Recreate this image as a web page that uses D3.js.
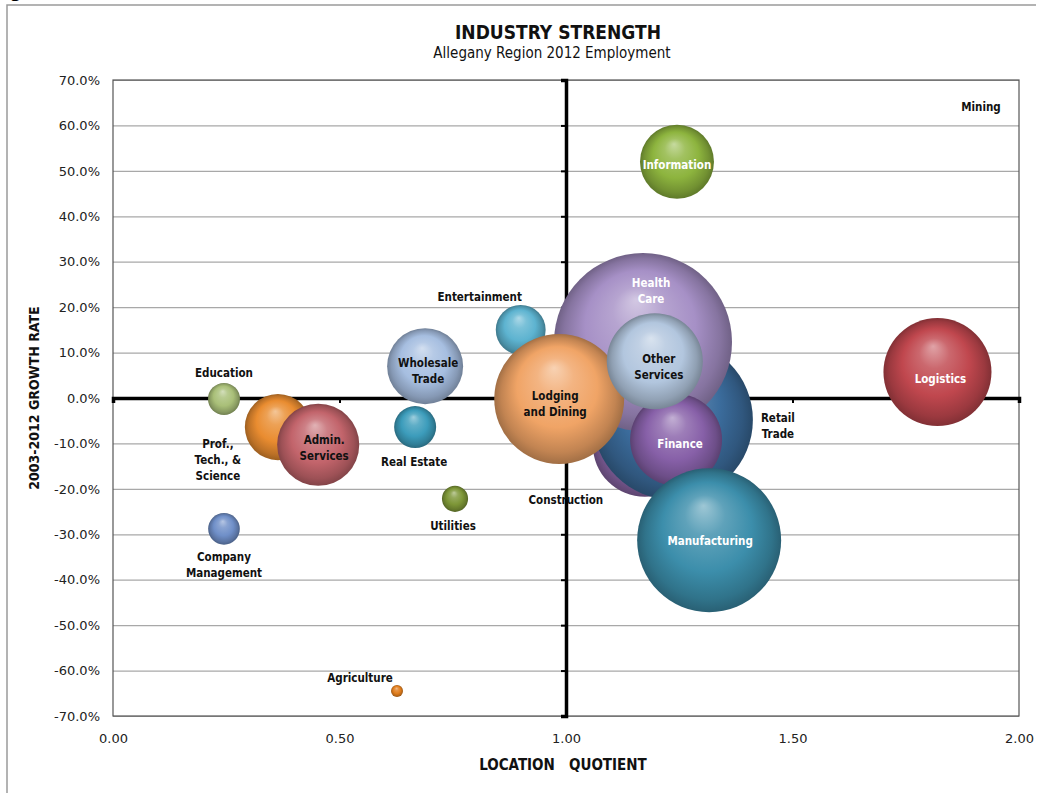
<!DOCTYPE html>
<html><head><meta charset="utf-8">
<script src="https://cdn.jsdelivr.net/npm/d3@7"></script>
<style>body{margin:0;background:#fff}svg{display:block}</style>
</head><body>
<svg id="chart" width="1054" height="793"></svg>
<script>
// ---------- DATA (draw order) ----------
const industries = ["Agriculture","Mining","Utilities","Education","Company Management","Prof., Tech., & Science","Admin. Services","Real Estate","Wholesale Trade","Entertainment","Construction","Retail Trade","Health Care","Lodging and Dining","Finance","Other Services","Information","Manufacturing","Logistics"];
const locationQuotient = [0.627, 2.30, 0.755, 0.245, 0.245, 0.364, 0.453, 0.667, 0.689, 0.900, 1.174, 1.236, 1.170, 0.985, 1.243, 1.196, 1.245, 1.316, 1.820];
const growthRate = [-64.5, 80.0, -22.2, -0.2, -28.8, -6.4, -10.3, -6.4, 7.0, 15.0, -10.3, -4.8, 12.3, -0.2, -9.2, 8.1, 52.0, -31.3, 5.7];
const employment = [36, 0, 170, 255, 250, 1090, 1680, 440, 1440, 620, 2700, 6380, 7900, 4210, 2110, 2300, 1365, 5170, 2910];
const bubbleColors = ["#e07d1c","#999999","#7d9637","#a9bf78","#6f8fc8","#e98c30","#c2646b","#3c9cbb","#a6bee0","#5db3d0","#8966a6","#3b6c9c","#a690c6","#f0a466","#8760a8","#b2c6de","#8db43e","#3c8eab","#c0474e"];
const labelLines = [["Agriculture"],["Mining"],["Utilities"],["Education"],["Company","Management"],["Prof.,","Tech., &","Science"],["Admin.","Services"],["Real Estate"],["Wholesale","Trade"],["Entertainment"],["Construction"],["Retail","Trade"],["Health","Care"],["Lodging","and Dining"],["Finance"],["Other","Services"],["Information"],["Manufacturing"],["Logistics"]];
const xTickValues = [0, 0.5, 1.0, 1.5, 2.0];
const yTickValues = [-70, -60, -50, -40, -30, -20, -10, 0, 10, 20, 30, 40, 50, 60, 70];

// ---------- LAYOUT (label offsets from bubble centre, px) ----------
const labelOffsets = [[-37,-13],[-38,27],[-2,27],[0,-26],[0,36],[-60,33],[6,3],[-1,35],[3,5],[-41,-33],[-79,55],[105,6],[8,-51],[-4,5],[4,4],[4,6],[0,3],[1,1],[3,7]];
const whiteLabels = new Set(["Information","Health Care","Finance","Manufacturing","Logistics"]);

const svg = d3.select("#chart");
const W = 1054, H = 793;
const m = {left:113, right:1019, top:80, bottom:716};

const fontTitle = "'Liberation Sans Narrow','DejaVu Sans Condensed','Arial Narrow',sans-serif";
const fontTick = "'DejaVu Sans','Liberation Sans',sans-serif";
const fontLabel = "'Liberation Sans Narrow','DejaVu Sans Condensed',sans-serif";

// outer border (left and top edges visible in the reference crop)
svg.append("path").attr("d", `M7,${H} V5 H1036`).attr("fill","none").attr("stroke","#9a9a9a").attr("stroke-width",1.5);
svg.append("text").attr("x",10).attr("y",-2).attr("font-family",fontTick).attr("font-weight","bold").attr("font-size",16).text("g");

const x = d3.scaleLinear().domain([0,2]).range([m.left, m.right]);
const y = d3.scaleLinear().domain([-70,70]).range([m.bottom, m.top]);
const r = d3.scaleSqrt().domain([0, d3.max(employment)]).range([0, 89]);

// titles
svg.append("text").attr("x",558).attr("y",39).attr("text-anchor","middle")
  .attr("font-family",fontTitle).attr("font-weight","bold").attr("font-size",19).attr("fill","#111").text("INDUSTRY STRENGTH");
svg.append("text").attr("x",552).attr("y",58).attr("text-anchor","middle")
  .attr("font-family",fontTitle).attr("font-size",15).attr("fill","#111").text("Allegany Region 2012 Employment");

// gridlines
svg.append("g").attr("transform",`translate(${m.left},0)`)
  .call(d3.axisLeft(y).tickValues(yTickValues).tickSize(-(m.right-m.left)).tickFormat(""))
  .call(g => g.select(".domain").remove())
  .call(g => g.selectAll("line").attr("stroke","#a8a8a8").attr("stroke-width",1.2));

// plot frame
svg.append("rect").attr("x",m.left).attr("y",m.top).attr("width",m.right-m.left).attr("height",m.bottom-m.top)
  .attr("fill","none").attr("stroke","#555").attr("stroke-width",1.2);

// y tick labels
svg.append("g").attr("transform",`translate(${m.left},0)`)
  .call(d3.axisLeft(y).tickValues(yTickValues).tickSize(0).tickPadding(13).tickFormat(d => d.toFixed(1)+"%"))
  .call(g => g.select(".domain").remove())
  .call(g => g.selectAll("text").attr("font-family",fontTick).attr("font-size",13).attr("fill","#222"));

// x tick labels
svg.append("g").attr("transform",`translate(0,${m.bottom})`)
  .call(d3.axisBottom(x).tickValues(xTickValues).tickSize(0).tickPadding(18).tickFormat(d3.format(".2f")))
  .call(g => g.select(".domain").remove())
  .call(g => g.selectAll("text").attr("font-family",fontTick).attr("font-size",13).attr("fill","#222"));

// central axes
svg.append("g").attr("transform",`translate(${x(1)},0)`)
  .call(d3.axisLeft(y).tickValues(yTickValues).tickSize(5).tickFormat(""))
  .call(g => g.select(".domain").attr("stroke","#000").attr("stroke-width",3.5))
  .call(g => g.selectAll("line").attr("stroke","#000").attr("stroke-width",2));
svg.append("g").attr("transform",`translate(0,${y(0)})`)
  .call(d3.axisBottom(x).tickValues(xTickValues).tickSize(5).tickFormat(""))
  .call(g => g.select(".domain").attr("stroke","#000").attr("stroke-width",3.5))
  .call(g => g.selectAll("line").attr("stroke","#000").attr("stroke-width",2));

// axis titles
svg.append("text").attr("x",563).attr("y",770).attr("text-anchor","middle")
  .attr("font-family",fontTitle).attr("font-weight","bold").attr("font-size",15).attr("fill","#111")
  .attr("xml:space","preserve").text("LOCATION   QUOTIENT");
svg.append("text").attr("transform",`translate(39,${y(0)}) rotate(-90)`).attr("text-anchor","middle")
  .attr("font-family",fontTitle).attr("font-weight","bold").attr("font-size",14).attr("fill","#111")
  .text("2003-2012 GROWTH RATE");

// gradients
const defs = svg.append("defs");
defs.append("clipPath").attr("id","plotclip").append("rect")
  .attr("x",m.left).attr("y",m.top).attr("width",m.right-m.left).attr("height",m.bottom-m.top);
bubbleColors.forEach((c,i) => {
  const g = defs.append("radialGradient").attr("id","bg"+i)
    .attr("cx","50%").attr("cy","50%").attr("r","50%").attr("fx","46%").attr("fy","26%");
  const base = d3.color(c);
  g.append("stop").attr("offset","0%").attr("stop-color", d3.interpolateRgb(c,"#ffffff")(0.5));
  g.append("stop").attr("offset","28%").attr("stop-color", d3.interpolateRgb(c,"#ffffff")(0.18));
  g.append("stop").attr("offset","62%").attr("stop-color", c);
  g.append("stop").attr("offset","88%").attr("stop-color", base.darker(0.6).formatHex());
  g.append("stop").attr("offset","100%").attr("stop-color", base.darker(1.1).formatHex());
});

const data = industries.map((name,i) => ({name, lq:locationQuotient[i], g:growthRate[i], emp:employment[i], i}));

// bubbles
svg.append("g").attr("clip-path","url(#plotclip)")
  .selectAll("circle").data(data).join("circle")
  .attr("cx", d => x(d.lq)).attr("cy", d => y(d.g)).attr("r", d => r(d.emp))
  .attr("fill", d => `url(#bg${d.i})`);

// labels
const lh = 16;
const lbl = svg.append("g");
data.forEach(d => {
  const cx = Math.min(Math.max(x(d.lq), m.left), m.right);
  const cy = Math.min(Math.max(y(d.g), m.top), m.bottom);
  const [dx, dy] = labelOffsets[d.i];
  const lines = labelLines[d.i];
  const y0 = cy + dy - (lines.length-1)*lh/2;
  const t = lbl.append("text").attr("text-anchor","middle").attr("dominant-baseline","central")
    .attr("font-family",fontLabel).attr("font-weight","bold").attr("font-size",11.5)
    .attr("fill", whiteLabels.has(d.name) ? "#ffffff" : "#111");
  lines.forEach((s,k) => t.append("tspan").attr("x", cx+dx).attr("y", y0 + k*lh).text(s));
});
</script>
</body></html>
